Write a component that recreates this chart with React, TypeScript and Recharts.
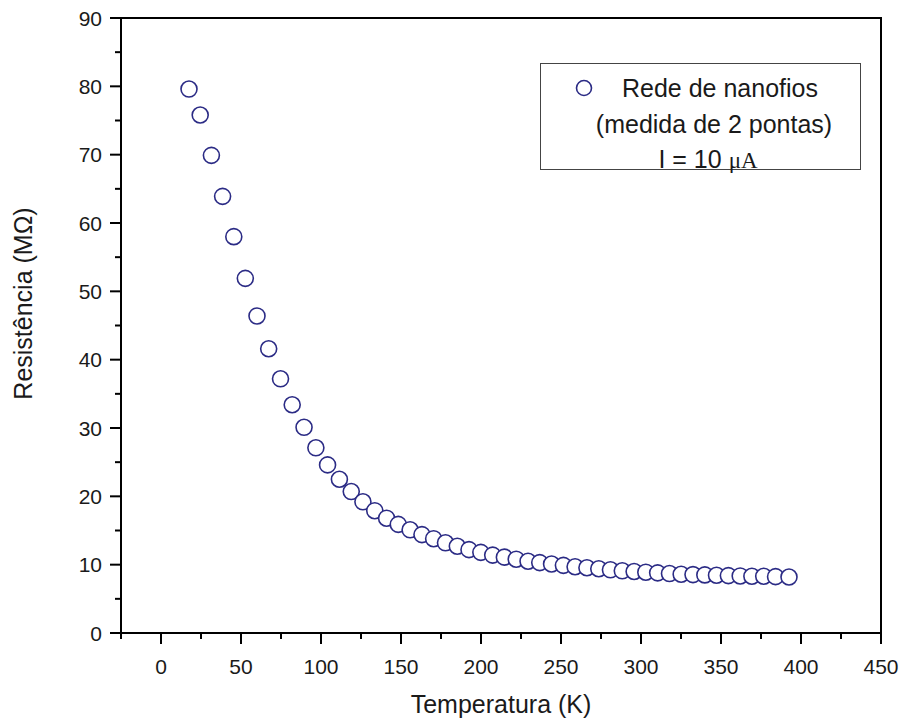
import React from 'react';
import { ScatterChart, Scatter, XAxis, YAxis, ReferenceArea, Legend } from 'recharts';

const temperatures = [
  17.5, 24.5, 31.5, 38.5, 45.5, 52.7, 60.0, 67.3, 74.7, 82.0,
  89.4, 96.8, 104.1, 111.5, 118.9, 126.2, 133.6, 141.0, 148.3, 155.7,
  163.1, 170.4, 177.8, 185.2, 192.5, 199.9, 207.3, 214.6, 222.0, 229.4,
  236.7, 244.1, 251.5, 258.8, 266.2, 273.6, 280.9, 288.3, 295.7, 303.0,
  310.4, 317.8, 325.1, 332.5, 339.9, 347.2, 354.6, 362.0, 369.3, 376.7,
  384.1, 392.5,
];

const resistances = [
  79.6, 75.8, 69.9, 63.9, 58.0, 51.9, 46.4, 41.6, 37.2, 33.4,
  30.1, 27.1, 24.6, 22.5, 20.7, 19.2, 17.9, 16.8, 15.9, 15.1,
  14.4, 13.8, 13.2, 12.7, 12.2, 11.8, 11.4, 11.1, 10.8, 10.5,
  10.3, 10.1, 9.9, 9.7, 9.55, 9.4, 9.25, 9.1, 9.0, 8.9,
  8.8, 8.7, 8.6, 8.55, 8.5, 8.45, 8.4, 8.35, 8.3, 8.3,
  8.25, 8.2,
];

const xTicks = [-25, 0, 25, 50, 75, 100, 125, 150, 175, 200, 225, 250, 275, 300, 325, 350, 375, 400, 425, 450];
const yTicks = [0, 5, 10, 15, 20, 25, 30, 35, 40, 45, 50, 55, 60, 65, 70, 75, 80, 85, 90];

const xTitle = 'Temperatura (K)';
const yTitle = 'Resistência (MΩ)';
const legendLines = ['Rede de nanofios', '(medida de 2 pontas)', 'I = 10 '];
const legendUnit = 'μA';

const data = temperatures.map((t, i) => ({ t, r: resistances[i] }));

const FONT = '"Liberation Sans", Arial, sans-serif';
const NAVY = '#2b2b85';
const TEXT = '#1a1a1a';
const TICK_SIZE = 11;
const TICK_MARGIN = 8;

function XTick(props: any) {
  const { x, y, payload } = props;
  const v = payload.value;
  const axisY = y - TICK_SIZE - TICK_MARGIN;
  const major = v % 50 === 0;
  return (
    <g>
      <line x1={x} x2={x} y1={axisY} y2={axisY + (major ? 11 : 6)} stroke="#000" strokeWidth={2} />
      {major && (
        <text x={x} y={axisY + 33} dy="0.36em" textAnchor="middle" fontSize={21} fontFamily={FONT} fill={TEXT}>
          {v}
        </text>
      )}
    </g>
  );
}

function YTick(props: any) {
  const { x, y, payload } = props;
  const v = payload.value;
  const axisX = x + TICK_SIZE + TICK_MARGIN;
  const major = v % 10 === 0;
  return (
    <g>
      <line x1={axisX} x2={axisX - (major ? 11 : 6)} y1={y} y2={y} stroke="#000" strokeWidth={2} />
      {major && (
        <text x={axisX - 19} y={y} dy="0.36em" textAnchor="end" fontSize={21} fontFamily={FONT} fill={TEXT}>
          {v}
        </text>
      )}
    </g>
  );
}

function Marker(props: any) {
  const { cx, cy } = props;
  return <circle cx={cx} cy={cy} r={8} fill="#fff" stroke={NAVY} strokeWidth={1.6} />;
}

function LegendBox() {
  return (
    <div
      style={{
        width: 319,
        height: 105,
        border: '1px solid #444',
        background: '#fff',
        position: 'relative',
        fontFamily: FONT,
        fontSize: 25,
        color: TEXT,
      }}
    >
      <svg width={20} height={20} style={{ position: 'absolute', left: 33, top: 14 }}>
        <circle cx={10} cy={10} r={7.5} fill="#fff" stroke={NAVY} strokeWidth={1.6} />
      </svg>
      <div style={{ position: 'absolute', left: 81, top: 6, lineHeight: '36px', whiteSpace: 'nowrap' }}>{legendLines[0]}</div>
      <div style={{ position: 'absolute', left: 0, width: 346, top: 42, lineHeight: '36px', textAlign: 'center', whiteSpace: 'nowrap' }}>{legendLines[1]}</div>
      <div style={{ position: 'absolute', left: 0, width: 334, top: 77, lineHeight: '36px', textAlign: 'center', whiteSpace: 'nowrap' }}>
        {legendLines[2]}
        <span style={{ fontFamily: '"Liberation Serif", "Times New Roman", serif', fontSize: 23 }}>{legendUnit}</span>
      </div>
    </div>
  );
}

export default function App() {
  return (
    <div style={{ position: 'absolute', left: 0, top: 0, width: 903, height: 724, background: '#fff' }}>
      <ScatterChart width={903} height={724} margin={{ top: 18, right: 22, bottom: 0, left: 0 }} style={{ fontFamily: FONT }}>
        <XAxis
          type="number"
          dataKey="t"
          domain={[-25, 450]}
          ticks={xTicks}
          interval={0}
          height={91}
          tickSize={TICK_SIZE}
          tickMargin={TICK_MARGIN}
          tickLine={false}
          axisLine={{ stroke: '#000', strokeWidth: 2 }}
          tick={<XTick />}
          allowDataOverflow
          label={{
            content: (p: any) => {
              const vb = p.viewBox || { x: 121, y: 633, width: 760 };
              return (
                <text x={vb.x + vb.width / 2} y={vb.y + 80} textAnchor="middle" fontSize={25} fontFamily={FONT} fill={TEXT}>
                  {xTitle}
                </text>
              );
            },
          }}
        />
        <YAxis
          type="number"
          dataKey="r"
          domain={[0, 90]}
          ticks={yTicks}
          interval={0}
          width={121}
          tickSize={TICK_SIZE}
          tickMargin={TICK_MARGIN}
          tickLine={false}
          axisLine={{ stroke: '#000', strokeWidth: 2 }}
          tick={<YTick />}
          allowDataOverflow
          label={{
            content: (p: any) => {
              const vb = p.viewBox || { x: 0, y: 18, height: 615 };
              const cx = vb.x + 32;
              const cy = vb.y + vb.height / 2 - 22;
              return (
                <text x={cx} y={cy} transform={`rotate(-90 ${cx} ${cy})`} textAnchor="middle" fontSize={25} fontFamily={FONT} fill={TEXT}>
                  {yTitle}
                </text>
              );
            },
          }}
        />
        <ReferenceArea x1={-25} x2={450} y1={0} y2={90} fill="none" stroke="#000" strokeWidth={2} fillOpacity={0} />
        <Scatter data={data} shape={<Marker />} isAnimationActive={false} />
        <Legend
          layout="vertical"
          align="center"
          verticalAlign="middle"
          wrapperStyle={{ left: 540, top: 63, width: 321, height: 107 }}
          content={() => <LegendBox />}
        />
      </ScatterChart>
    </div>
  );
}
